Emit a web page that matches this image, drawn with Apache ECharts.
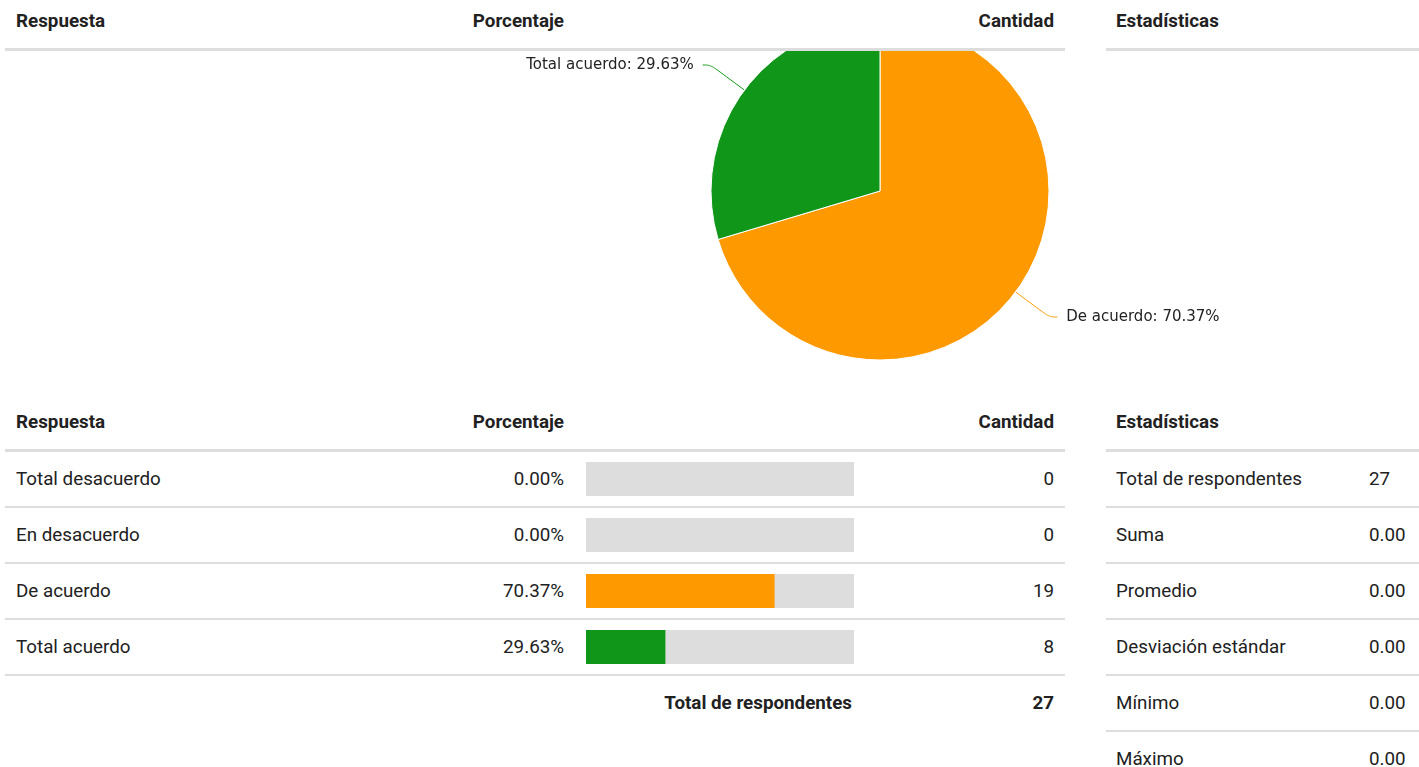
<!DOCTYPE html>
<html>
<head>
<meta charset="utf-8">
<script src="https://cdn.jsdelivr.net/npm/echarts@6/dist/echarts.min.js"></script>
<style>
  html, body { margin: 0; padding: 0; background: #fff; }
  body { width: 1419px; height: 767px; overflow: hidden; position: relative;
         font-family: Roboto, "Noto Sans", sans-serif; font-size: 18.8px; color: #212121; }
  .tabla { position: absolute; }
  .fila { display: flex; height: 54px; line-height: 55px; border-bottom: 2px solid #dddddd; }
  .fila.cab { height: 48px; line-height: 42px; border-bottom: 3px solid #dddddd; font-weight: bold; }
  .fila.sinborde { border-bottom: 2px solid transparent; }
  .c { box-sizing: border-box; padding: 0 11px; white-space: nowrap; }
  .der { text-align: right; }
  .b { font-weight: bold; }
  #pie { position: absolute; left: 5px; top: 51px; width: 1414px; height: 350px; }
  #barras { position: absolute; left: 586px; top: 451px; width: 268px; height: 224px; }
</style>
</head>
<body>
<div class="tabla" id="cabIzq" style="left:5px;top:0;width:1060px;"></div>
<div class="tabla" id="cabDer" style="left:1106px;top:0;width:313px;"></div>
<div id="pie"></div>
<div class="tabla" id="tablaIzq" style="left:5px;top:401px;width:1060px;"></div>
<div class="tabla" id="tablaDer" style="left:1106px;top:401px;width:313px;"></div>
<div id="barras"></div>
<script>
var respuestas = ['Total desacuerdo', 'En desacuerdo', 'De acuerdo', 'Total acuerdo'];
var cantidades = [0, 0, 19, 8];
var porcentajes = [0.00, 0.00, 70.37, 29.63];
var colores = ['#dc3912', '#3366cc', '#ff9900', '#109618'];
var totalRespondentes = 27;
var estadNombres = ['Total de respondentes', 'Suma', 'Promedio', 'Desviación estándar', 'Mínimo', 'Máximo'];
var estadValores = ['27', '0.00', '0.00', '0.00', '0.00', '0.00'];

// anchos de columnas de la tabla izquierda
var anchos = [295, 275, 290, 200];

function celda(texto, ancho, clase, estilo) {
  return '<div class="c ' + (clase || '') + '" style="width:' + ancho + 'px;' + (estilo || '') + '">' + texto + '</div>';
}
function cabeceraIzq() {
  return '<div class="fila cab">' + celda('Respuesta', anchos[0]) + celda('Porcentaje', anchos[1], 'der') +
    celda('', anchos[2]) + celda('Cantidad', anchos[3], 'der') + '</div>';
}
function cabeceraDer() {
  return '<div class="fila cab">' + celda('Estadísticas', 313, '', 'padding-left:10px') + '</div>';
}

document.getElementById('cabIzq').innerHTML = cabeceraIzq();
document.getElementById('cabDer').innerHTML = cabeceraDer();

var html = cabeceraIzq();
for (var i = 0; i < respuestas.length; i++) {
  html += '<div class="fila">' + celda(respuestas[i], anchos[0]) + celda(porcentajes[i].toFixed(2) + '%', anchos[1], 'der') +
    celda('', anchos[2]) + celda(cantidades[i], anchos[3], 'der') + '</div>';
}
html += '<div class="fila sinborde">' + celda('', anchos[0]) + celda('', anchos[1]) +
  celda('Total de respondentes', anchos[2], 'der b', 'padding-right:13px') + celda(totalRespondentes, anchos[3], 'der b') + '</div>';
document.getElementById('tablaIzq').innerHTML = html;

var html2 = cabeceraDer();
for (var j = 0; j < estadNombres.length; j++) {
  html2 += '<div class="fila">' + celda(estadNombres[j], 253, '', 'padding-left:10px') +
    celda(estadValores[j], 60, '', 'padding:0 0 0 10px') + '</div>';
}
document.getElementById('tablaDer').innerHTML = html2;

// grafico de torta, solo respuestas con valor
var datosPie = [];
for (var k = 0; k < respuestas.length; k++) {
  if (cantidades[k] > 0) {
    datosPie.push({ name: respuestas[k], value: cantidades[k], pct: porcentajes[k], itemStyle: { color: colores[k] } });
  }
}
var pie = echarts.init(document.getElementById('pie'));
pie.setOption({
  animation: false,
  series: [{
    type: 'pie',
    center: [875, 140],
    radius: 169,
    startAngle: 90,
    clockwise: true,
    data: datosPie,
    itemStyle: { borderColor: '#fff', borderWidth: 1 },
    label: {
      show: true,
      fontFamily: 'DejaVu Sans',
      fontSize: 15,
      color: '#222',
      padding: [14, 0, 0, 0],
      distanceToLabelLine: 9,
      formatter: function (p) { return p.name + ': ' + p.data.pct.toFixed(2) + '%'; }
    },
    labelLine: { show: true, length: 42, length2: 8, smooth: 0.4, lineStyle: { width: 1 } },
    emphasis: { disabled: true }
  }]
});

// barras de porcentaje
var barras = echarts.init(document.getElementById('barras'));
barras.setOption({
  animation: false,
  grid: { left: 0, right: 0, top: 0, bottom: 0 },
  xAxis: { type: 'value', min: 0, max: 100, show: false },
  yAxis: { type: 'category', data: respuestas, inverse: true, show: false },
  series: [{
    type: 'bar',
    barWidth: 34,
    data: porcentajes.map(function (v, n) { return { value: v, itemStyle: { color: colores[n] } }; }),
    showBackground: true,
    backgroundStyle: { color: '#dddddd' },
    silent: true
  }]
});
</script>
</body>
</html>
